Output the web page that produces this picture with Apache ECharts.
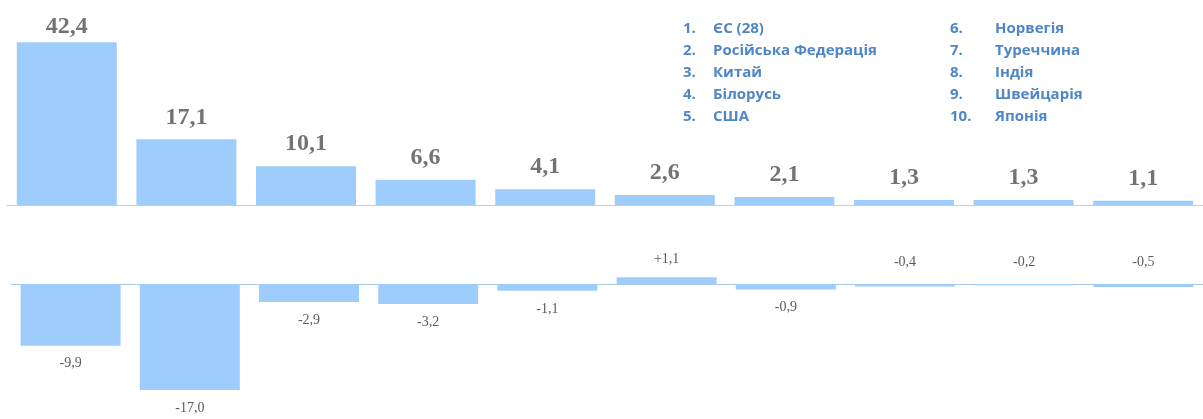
<!DOCTYPE html>
<html>
<head>
<meta charset="utf-8">
<script src="https://cdn.jsdelivr.net/npm/echarts@6/dist/echarts.min.js"></script>
<style>
  html, body { margin: 0; padding: 0; background: #fff; }
  #main { width: 1203px; height: 419px; }
</style>
</head>
<body>
<div id="main"></div>
<script>
var countries = ['ЄС (28)', 'Російська Федерація', 'Китай', 'Білорусь', 'США',
  'Норвегія', 'Туреччина', 'Індія', 'Швейцарія', 'Японія'];
var shareValues = [42.4, 17.1, 10.1, 6.6, 4.1, 2.6, 2.1, 1.3, 1.3, 1.1];   // частка, %
var changeValues = [-9.9, -17.0, -2.9, -3.2, -1.1, 1.1, -0.9, -0.4, -0.2, -0.5]; // зміна, в.п.
var labelAbove = [7, 8, 9]; // малі від'ємні значення – підпис над віссю

var barColor = '#9fcdfb';
var fmt = function (v, sign) {
  var s = v.toFixed(1).replace('.', ',');
  return sign && v > 0 ? '+' + s : s;
};

var myChart = echarts.init(document.getElementById('main'));

// список країн справа вгорі
var legendItems = [];
countries.forEach(function (name, i) {
  var col = i < 5 ? 0 : 1,
    row = i % 5,
    y = 31 + row * 22;
  legendItems.push({
    type: 'text', left: col ? 950 : 683, top: y - 10,
    style: { text: (i + 1) + '.', fill: '#4f86c6', font: 'bold 15px "Open Sans"' }
  });
  legendItems.push({
    type: 'text', left: col ? 995 : 713, top: y - 10,
    style: { text: name, fill: '#4f86c6', font: 'bold 15px "Open Sans"' }
  });
});

var option = {
  animation: false,
  grid: [
    { left: 7, width: 1200, top: 13, height: 192 },
    { left: 11, width: 1200, top: 252.8, height: 156 }
  ],
  xAxis: [
    {
      type: 'category', gridIndex: 0, data: countries,
      axisLine: { lineStyle: { color: '#b9cfe3', width: 1 } },
      axisTick: { show: false }, axisLabel: { show: false }
    },
    {
      type: 'category', gridIndex: 1, data: countries,
      axisLine: { onZero: true, lineStyle: { color: '#a9c9ea', width: 1 } },
      axisTick: { show: false }, axisLabel: { show: false }
    }
  ],
  yAxis: [
    { type: 'value', gridIndex: 0, min: 0, max: 50, show: false, splitLine: { show: false } },
    { type: 'value', gridIndex: 1, min: -20, max: 5, show: false, splitLine: { show: false } }
  ],
  graphic: legendItems,
  series: [
    {
      type: 'bar', xAxisIndex: 0, yAxisIndex: 0,
      barWidth: 100,
      itemStyle: { color: barColor },
      label: {
        show: true, position: 'top', distance: 10,
        fontFamily: '"Liberation Serif"', fontWeight: 'bold', fontSize: 24, color: '#737373',
        formatter: function (p) { return fmt(p.value); }
      },
      data: shareValues.map(function (v, i) {
        // найвищий стовпчик – підпис притиснутий до верху
        return i === 0 ? { value: v, label: { distance: 3 } } : v;
      })
    },
    {
      type: 'bar', xAxisIndex: 1, yAxisIndex: 1,
      barWidth: 100,
      itemStyle: { color: barColor },
      label: {
        show: true, position: 'outside', distance: 11,
        fontFamily: '"Liberation Serif"', fontSize: 14, color: '#5a5a5a',
        formatter: function (p) { return fmt(p.value, true); }
      },
      data: changeValues.map(function (v, i) {
        if (labelAbove.indexOf(i) >= 0) {
          return { value: v, label: { position: 'top', distance: 15 } };
        }
        return v;
      })
    }
  ]
};
myChart.setOption(option);
</script>
</body>
</html>
